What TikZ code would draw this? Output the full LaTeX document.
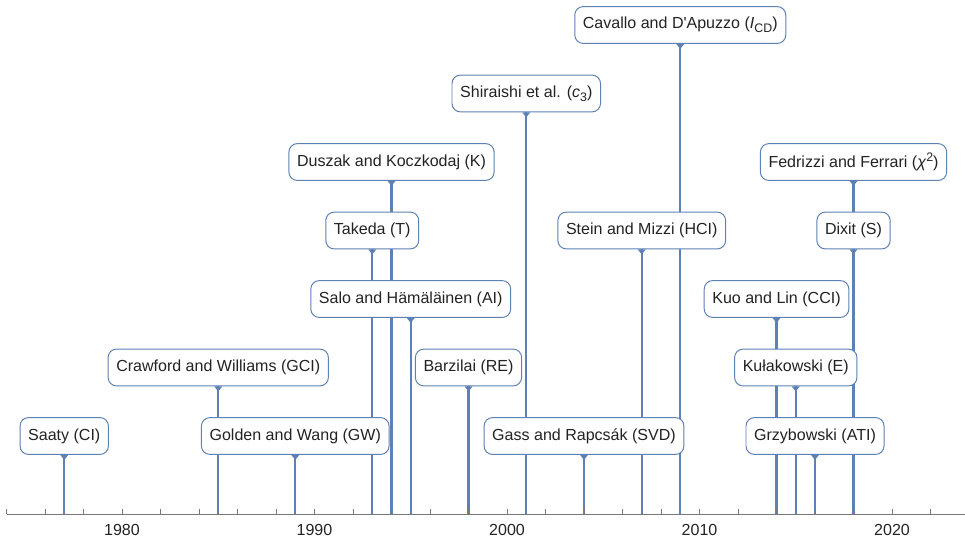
\documentclass[tikz,border=0pt]{standalone}
\usepackage{fontspec}
\setmainfont{Liberation Sans}
\usepackage{tikz}
\usetikzlibrary{backgrounds}
\definecolor{tlblue}{RGB}{94,129,181}
\definecolor{axisgray}{RGB}{120,120,120}
\definecolor{textgray}{RGB}{35,35,35}
\newcommand{\lowtext}[1]{\raisebox{-0.45ex}{\fontsize{8.8}{9}\selectfont #1}}
\newcommand{\hightext}[1]{\raisebox{0.75ex}{\fontsize{8.8}{9}\selectfont #1}}

\begin{document}
\begin{tikzpicture}[
    x=0.025cm, y=-0.025cm,
    font=\fontsize{11.4}{13}\selectfont,
    event/.style={
        rectangle,
        draw=tlblue,
        fill=white,
        line width=0.7pt,
        rounded corners=6pt,
        minimum height=0.92cm,
        inner xsep=5.8pt,
        text=textgray
    },
    stem/.style={draw=tlblue, line width=1.7pt},
    marker/.style={fill=tlblue},
    axis/.style={draw=axisgray, line width=0.6pt},
    tick/.style={draw=axisgray, line width=0.5pt},
    yearlabel/.style={text=textgray, inner sep=0pt}
]
\useasboundingbox (0,0) rectangle (965,542);

% ---------------------------------------------------------------- Axis
\coordinate (axL) at (7,514);
\coordinate (axR) at (965,514);
\draw[axis] (axL) -- (axR);
\foreach \yr in {1974,1976,...,2022}{
    \pgfmathsetmacro{\X}{122+(\yr-1980)*19.25}
    \draw[tick] (\X,514) -- ++(0,-5);
}
\foreach \yr in {1980,1990,...,2020}{
    \pgfmathsetmacro{\X}{122+(\yr-1980)*19.25}
    \node[yearlabel] (y\yr) at (\X,530) {\yr};
}

% ---------------------------------------------------------------- Events
\foreach \yr/\lvl/\nm/\txt in {
    1977/1/saaty/{Saaty (CI)},
    1985/2/crawford/{Crawford and Williams (GCI)},
    1989/1/golden/{Golden and Wang (GW)},
    1993/4/takeda/{Takeda (T)},
    1994/5/duszak/{Duszak and Koczkodaj (K)},
    1995/3/salo/{Salo and Hämäläinen (AI)},
    1998/2/barzilai/{Barzilai (RE)},
    2001/6/shiraishi/{Shiraishi et al. (\textit{c}\lowtext{3})},
    2004/1/gass/{Gass and Rapcsák (SVD)},
    2007/4/stein/{Stein and Mizzi (HCI)},
    2009/7/cavallo/{Cavallo and D\textquotesingle Apuzzo (\textit{I}\lowtext{CD})},
    2014/3/kuo/{Kuo and Lin (CCI)},
    2015/2/kulakowski/{Kułakowski (E)},
    2016/1/grzybowski/{Grzybowski (ATI)},
    2018/4/dixit/{Dixit (S)},
    2018/5/fedrizzi/{Fedrizzi and Ferrari (\textit{χ}\hightext{2})}%
}{
    \pgfmathsetmacro{\X}{122+(\yr-1980)*19.25}
    \pgfmathsetmacro{\Y}{436-(\lvl-1)*68.5}
    \node[event] (\nm) at (\X,\Y) {\txt};
    \coordinate (\nm-base) at (\X,514);
    \begin{scope}[on background layer]
        \draw[stem] (\nm.south) -- (\nm-base);
        \fill[marker] (\nm.south) ++(-4,0) -- ++(8,0) -- ++(-4,5) -- cycle;
    \end{scope}
}

\end{tikzpicture}
\end{document}
